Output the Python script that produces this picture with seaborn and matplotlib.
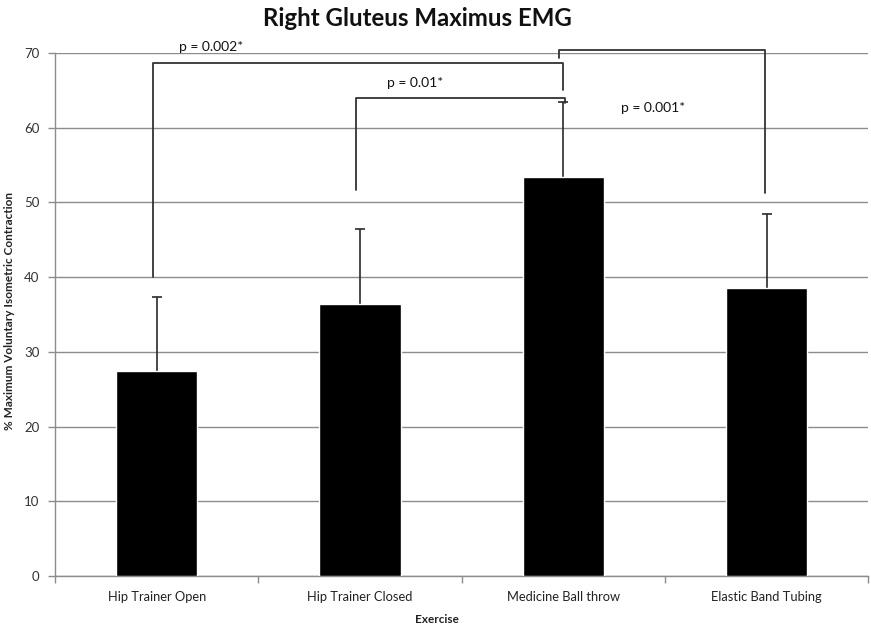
import matplotlib
matplotlib.use("Agg")
import matplotlib.pyplot as plt
import seaborn as sns
import pandas as pd
from matplotlib.ticker import FixedLocator

exercises = ["Hip Trainer Open", "Hip Trainer Closed", "Medicine Ball throw", "Elastic Band Tubing"]
mean_mvic = [27.4, 36.4, 53.4, 38.5]
sd_mvic = [10.0, 10.0, 10.1, 10.0]
y_ticks = [0, 10, 20, 30, 40, 50, 60, 70]

# significance brackets: left/right x, drop ends, top height, label and its position
bracket_left = [-0.02, 0.98, 1.98]
bracket_right = [2.0, 2.01, 2.99]
bracket_left_end = [40.0, 51.7, 69.3]
bracket_top = [68.7, 64.0, 70.4]
bracket_right_end = [65.1, 63.3, 51.3]
p_labels = ["p = 0.002*", "p = 0.01*", "p = 0.001*"]
p_label_x = [0.27, 1.27, 2.44]
p_label_y = [70.8, 66.0, 62.7]

sns.set_theme(style="white")
plt.rcParams["font.family"] = ["Lato", "DejaVu Sans"]

df = pd.DataFrame({"Exercise": exercises, "MVIC": mean_mvic})

fig = plt.figure(figsize=(8.71, 6.26), dpi=100)
ax = fig.add_axes([0.0631, 0.0799, 0.934, 0.8354])

sns.barplot(data=df, x="Exercise", y="MVIC", color="black", width=0.4,
            saturation=1, errorbar=None, ax=ax, zorder=3)

# upper error bars only
eb = ax.errorbar(range(len(exercises)), mean_mvic, yerr=[[0] * len(sd_mvic), sd_mvic],
                 fmt="none", ecolor="#2a2a2a", elinewidth=1.2, capsize=3.5, capthick=1.2, zorder=2)
eb.lines[1][0].set_visible(False)

ax.set_xlim(-0.5, 3.5)
ax.set_ylim(0, 70)
ax.yaxis.set_major_locator(FixedLocator(y_ticks))
ax.grid(axis="y", color="#8c8c8c", linewidth=1.0)
ax.set_axisbelow(True)

for side in ["top", "right"]:
    ax.spines[side].set_visible(False)
for side in ["left", "bottom"]:
    ax.spines[side].set_color("#8c8c8c")
    ax.spines[side].set_linewidth(1.0)

ax.xaxis.set_minor_locator(FixedLocator([-0.5, 0.5, 1.5, 2.5, 3.5]))
ax.tick_params(axis="x", which="major", length=0, pad=11, labelsize=9.3, colors="#222222")
ax.tick_params(axis="x", which="minor", length=5, color="#8c8c8c", width=1, bottom=True)
ax.tick_params(axis="y", which="major", length=5, color="#8c8c8c", width=1, left=True,
               labelsize=9.5, colors="#333333", pad=6)

ax.set_xlabel("Exercise", fontsize=8.5, fontweight="bold", color="#222222")
ax.set_ylabel("% Maximum Voluntary Isometric Contraction", fontsize=8.5, fontweight="bold",
              color="#222222")
ax.xaxis.set_label_coords(0.469, -0.072)
ax.yaxis.set_label_coords(-0.049, 0.507)

fig.text(417 / 871, 1 - 18 / 626, "Right Gluteus Maximus EMG", fontsize=17.3,
         fontweight="bold", color="#111111", ha="center", va="center")

for x0, x1, y0, yt, y1 in zip(bracket_left, bracket_right, bracket_left_end, bracket_top, bracket_right_end):
    ax.plot([x0, x0, x1, x1], [y0, yt, yt, y1], color="#333333", linewidth=1.3,
            clip_on=False, zorder=5)

for txt, tx, ty in zip(p_labels, p_label_x, p_label_y):
    ax.text(tx, ty, txt, fontsize=10, color="#111111", ha="center", va="center", clip_on=False)

fig.savefig("out.png", dpi=100)
